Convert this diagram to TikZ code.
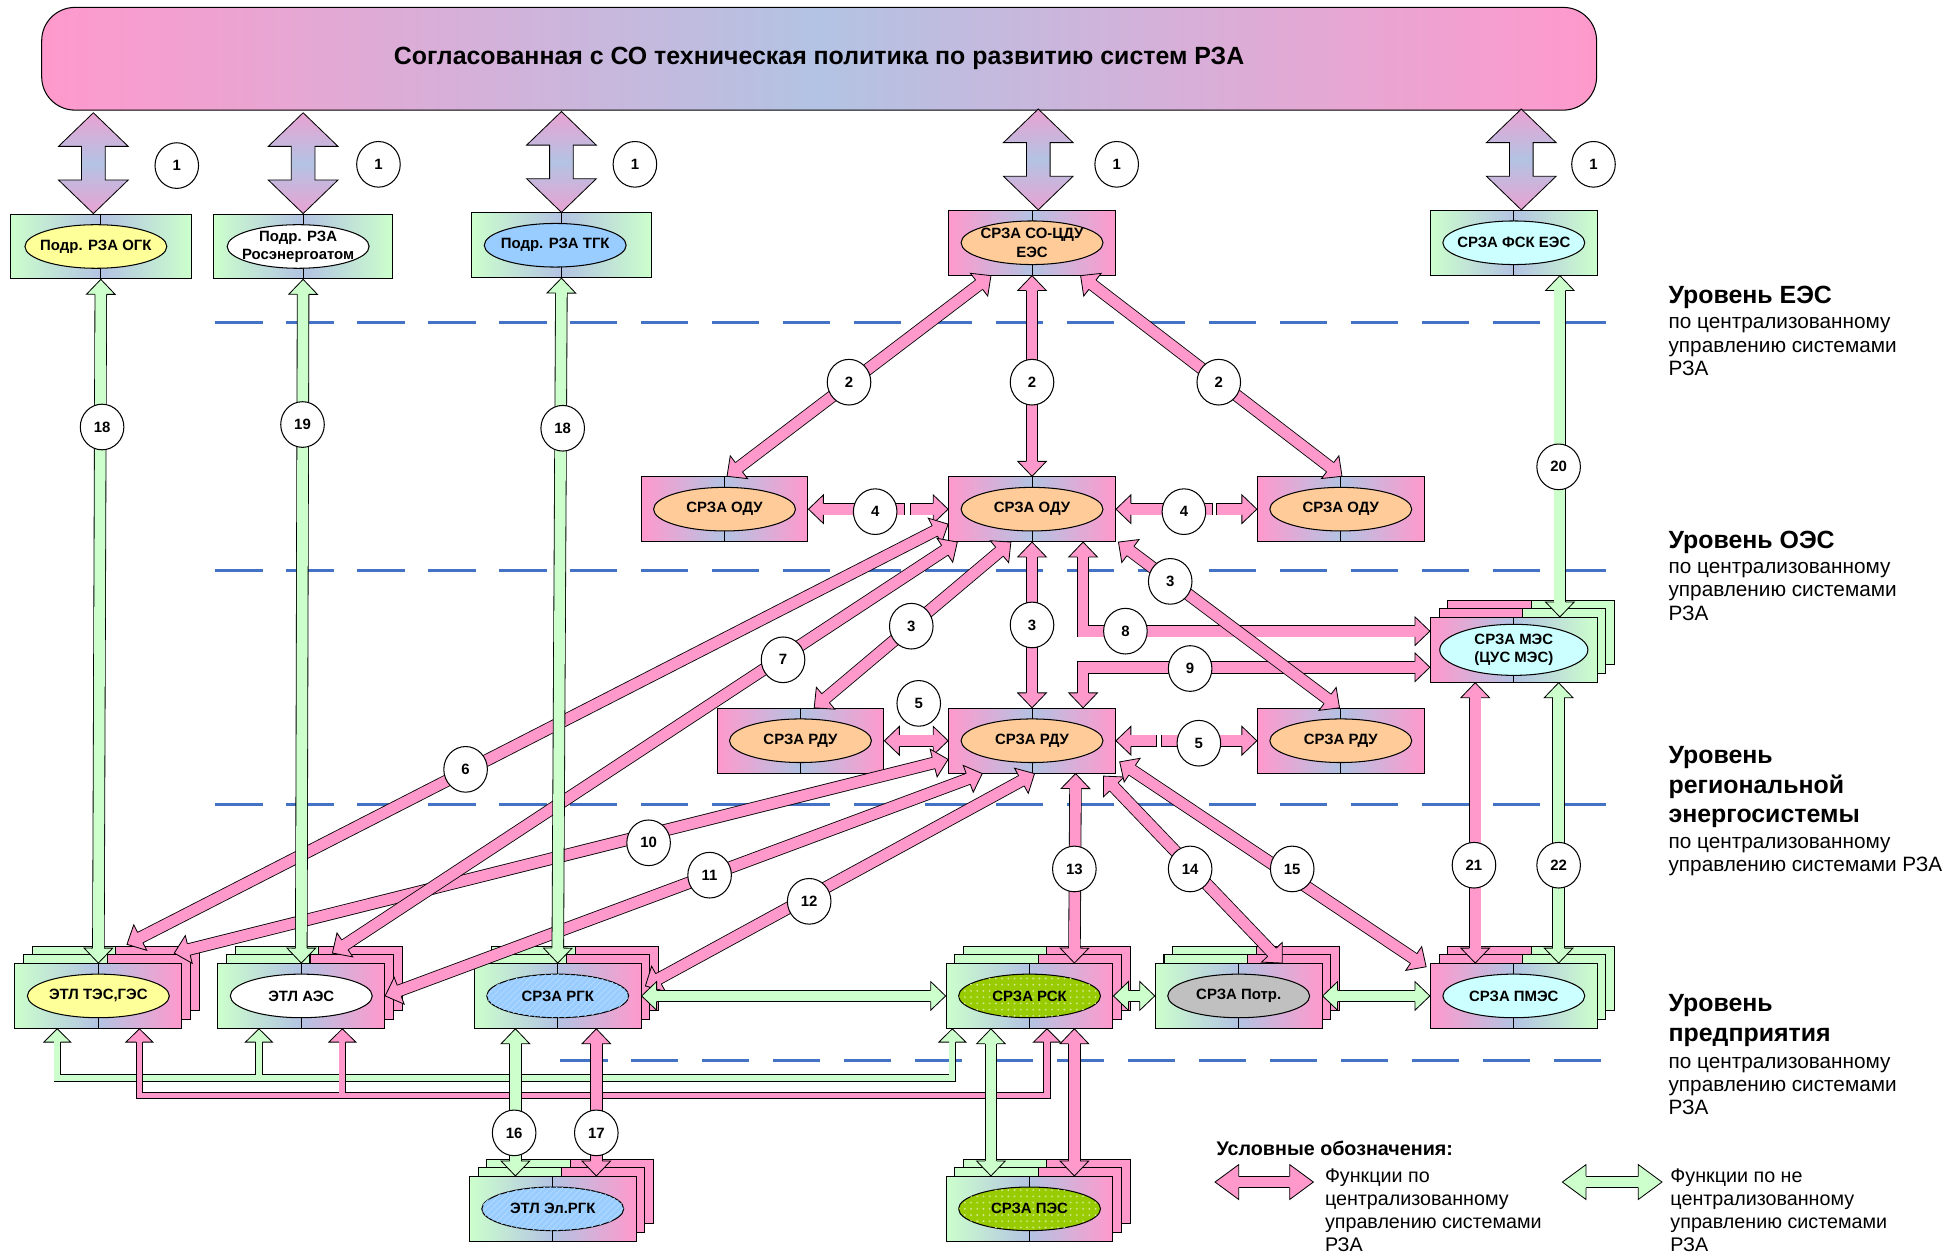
\documentclass[tikz,border=0pt]{standalone}
\usepackage{fontspec}
\setmainfont{Liberation Sans}
\usepackage{tikz}
\usetikzlibrary{calc}
\usetikzlibrary{shapes.geometric,patterns}

\definecolor{pinkc}{HTML}{FF99CC}
\definecolor{greenc}{HTML}{CCFFCC}
\definecolor{bluec}{HTML}{B3C3E3}
\definecolor{mauvec}{HTML}{E9A2D2}
\definecolor{orangec}{HTML}{FFCC99}
\definecolor{yellowc}{HTML}{FFFF99}
\definecolor{skyc}{HTML}{99CCFF}
\definecolor{cyanc}{HTML}{CCFFFF}
\definecolor{limec}{HTML}{99CC00}
\definecolor{grayc}{HTML}{C0C0C0}
\definecolor{dashc}{HTML}{4472C4}

\tikzstyle{box}=[draw, line width=0.5pt, minimum width=80.4pt, minimum height=31.2pt, inner sep=0pt]
\tikzstyle{pinkbox}=[box, left color=pinkc, right color=pinkc, middle color=bluec]
\tikzstyle{greenbox}=[box, left color=greenc, right color=greenc, middle color=bluec]
\tikzstyle{gpbox}=[box, left color=greenc, right color=pinkc, middle color=bluec]
\tikzstyle{pgbox}=[box, left color=pinkc, right color=greenc, middle color=bluec]
\tikzstyle{lbl}=[ellipse, draw, line width=0.5pt, minimum width=68.4pt, minimum height=21pt, inner xsep=-10pt, inner ysep=-5pt, align=center, font=\bfseries\fontsize{7.2}{8.8}\selectfont]
\tikzstyle{hatchfill}=[fill=skyc, postaction={pattern=north east lines, pattern color=white!25!skyc}]
\tikzstyle{dotfill}=[fill=limec, postaction={pattern=dots, pattern color=white!55!limec}]
\tikzstyle{num}=[ellipse, draw, fill=white, line width=0.5pt, minimum width=21pt, minimum height=22pt, inner sep=0pt, font=\bfseries\fontsize{7.2}{9}\selectfont]
\tikzstyle{banner}=[draw, line width=0.5pt, rounded corners=16pt, minimum width=749.4pt, minimum height=49.5pt, left color=pinkc, right color=pinkc, middle color=bluec, font=\bfseries\fontsize{12}{14}\selectfont]
\tikzstyle{levelline}=[dashc, line width=1.5pt, dash pattern=on 22.8pt off 11.4pt]
\tikzstyle{lvlhead}=[anchor=base west, inner sep=0pt, font=\bfseries\fontsize{12}{14}\selectfont]
\tikzstyle{lvlsub}=[anchor=base west, inner sep=0pt, font=\fontsize{10}{11.5}\selectfont]
\tikzstyle{legtitle}=[anchor=base west, inner sep=0pt, font=\bfseries\fontsize{9.5}{11}\selectfont]
\tikzstyle{legtext}=[anchor=base west, inner sep=0pt, font=\fontsize{9.5}{11}\selectfont]
\tikzset{shaft/.style={draw=black, line width=0.4pt, double=#1, double distance=5.2pt}}

% arrow head sizes
\def\hl{7.2pt}
\def\hk{6.4pt}
\def\hw{6.9pt}
\def\hs{2.8pt}

% head: colour, point behind, tip
\newcommand{\arrtip}[3]{%
  \coordinate (tp) at (#2);
  \coordinate (tq) at (#3);
  \coordinate (tb) at ($(tq)!\hl!(tp)$);
  \fill[#1] ($(tb)!\hs!90:(tq)$) -- ($(tb)!\hw!90:(tq)$) -- (tq) -- ($(tb)!\hw!-90:(tq)$) -- ($(tb)!\hs!-90:(tq)$) -- cycle;
  \draw[line width=0.4pt] ($(tb)!\hs!90:(tq)$) -- ($(tb)!\hw!90:(tq)$) -- (tq) -- ($(tb)!\hw!-90:(tq)$) -- ($(tb)!\hs!-90:(tq)$);
}
% double-headed connector
\newcommand{\darr}[3]{%
  \coordinate (da) at (#2);
  \coordinate (db) at (#3);
  \draw[shaft=#1, shorten <=\hk, shorten >=\hk] (da) -- (db);
  \arrtip{#1}{da}{db}
  \arrtip{#1}{db}{da}
}
% big policy arrow, lower tip at #1
\newcommand{\bigarr}[1]{%
  \begin{scope}[shift={(#1)}]
    \shadedraw[top color=mauvec, bottom color=mauvec, middle color=bluec, line width=0.4pt]
      (0,0) -- (-28,-27) -- (-9.5,-27) -- (-9.5,-54) -- (-28,-54) -- (0,-81)
      -- (28,-54) -- (9.5,-54) -- (9.5,-27) -- (28,-27) -- cycle;
  \end{scope}}
% two sheets behind a unit
\newcommand{\stackback}[3]{%
  \foreach \sk in {14,7}{%
    \filldraw[fill=#2, line width=0.5pt] ($#1+(-67+\sk,-26-\sk)$) rectangle ($#1+(\sk,26-\sk)$);
    \filldraw[fill=#3, line width=0.5pt] ($#1+(\sk,-26-\sk)$) rectangle ($#1+(67+\sk,26-\sk)$);
  }}
% unit: name, position, box style, ellipse style, text
\newcommand{\rzunit}[5]{%
  \node[#3] (#1) at #2 {};
  \draw[line width=0.5pt] (#1.north) -- (#1.south);
  \node[lbl, #4] (#1-t) at (#1) {#5};
}
\newcommand{\shaftgap}[3]{%
  \fill[white] (#1,#3-6) rectangle (#2,#3+6);
  \draw[line width=0.4pt] (#1,#3-4.67) -- (#1,#3+4.67) (#2,#3-4.67) -- (#2,#3+4.67);
}

\begin{document}
\begin{tikzpicture}[x=0.6pt, y=-0.6pt]
\useasboundingbox (0,0) rectangle (1568,1011);

% level borders
\draw[levelline] (173,259) -- (1290,259);
\draw[levelline] (173,458) -- (1290,458);
\draw[levelline] (173,646) -- (1290,646);
\draw[levelline] (450,852) -- (1290,852);

% EES level
\rzunit{ogk}{(81,198)}{greenbox, minimum width=87pt}{fill=yellowc, xshift=-2.4pt}{Подр. РЗА ОГК}
\rzunit{rosen}{(243.5,198)}{greenbox, minimum width=86.6pt}{fill=white, xshift=-2.4pt}{Подр. РЗА\\Росэнергоатом}
\rzunit{tgk}{(451,197)}{greenbox, minimum width=87pt}{fill=skyc, xshift=-3pt}{Подр. РЗА ТГК}
\rzunit{cdu}{(829,195)}{pinkbox}{fill=orangec}{СРЗА СО-ЦДУ\\ЕЭС}
\rzunit{fsk}{(1216,195)}{greenbox}{fill=cyanc}{СРЗА ФСК ЕЭС}

% OES level
\rzunit{odu1}{(582,409)}{pinkbox}{fill=orangec}{СРЗА ОДУ}
\rzunit{odu2}{(829,409)}{pinkbox}{fill=orangec}{СРЗА ОДУ}
\rzunit{odu3}{(1077,409)}{pinkbox}{fill=orangec}{СРЗА ОДУ}
\stackback{(1216,522)}{pinkc}{greenc}
\rzunit{mes}{(1216,522)}{pgbox}{fill=cyanc, minimum width=71.4pt, minimum height=24.6pt}{СРЗА МЭС\\(ЦУС МЭС)}

% regional level
\rzunit{rdu1}{(643,595)}{pinkbox}{fill=orangec}{СРЗА РДУ}
\rzunit{rdu2}{(829,595)}{pinkbox}{fill=orangec}{СРЗА РДУ}
\rzunit{rdu3}{(1077,595)}{pinkbox}{fill=orangec}{СРЗА РДУ}

% enterprise level
\stackback{(79,800)}{greenc}{pinkc}
\rzunit{tes}{(79,800)}{gpbox}{fill=yellowc}{ЭТЛ ТЭС,ГЭС}
\stackback{(242,800)}{greenc}{pinkc}
\rzunit{aes}{(242,800)}{gpbox}{fill=white}{ЭТЛ АЭС}
\stackback{(448,800)}{greenc}{pinkc}
\rzunit{rgk}{(448,800)}{gpbox}{hatchfill}{СРЗА РГК}
\stackback{(827,800)}{greenc}{pinkc}
\rzunit{rsk}{(827,800)}{gpbox}{dotfill}{СРЗА РСК}
\stackback{(995,800)}{greenc}{pinkc}
\rzunit{potr}{(995,800)}{gpbox}{fill=grayc}{СРЗА Потр.}
\stackback{(1216,800)}{pinkc}{greenc}
\rzunit{pmes}{(1216,800)}{pgbox}{fill=cyanc}{СРЗА ПМЭС}
\stackback{(444,971)}{greenc}{pinkc}
\rzunit{elrgk}{(444,971)}{gpbox}{hatchfill}{ЭТЛ Эл.РГК}
\stackback{(827,971)}{greenc}{pinkc}
\rzunit{pes}{(827,971)}{gpbox}{dotfill}{СРЗА ПЭС}

% policy
\node[banner] (policy) at (658,47.2) {Согласованная с СО техническая политика по развитию систем РЗА};
\bigarr{$(ogk.north)+(-6,0)$}
\bigarr{rosen.north}
\bigarr{tgk.north}
\bigarr{$(cdu.north)+(5,0)$}
\bigarr{$(fsk.north)+(6,0)$}

% centralised functions
\darr{pinkc}{$(cdu.south)+(-33,0)$}{$(odu1.north)+(2,0)$}
\darr{pinkc}{cdu.south}{odu2.north}
\darr{pinkc}{$(cdu.south)+(39,0)$}{$(odu3.north)+(1,0)$}
\darr{pinkc}{odu1.east}{odu2.west}
\darr{pinkc}{odu2.east}{odu3.west}
\shaftgap{726.6}{731.7}{409}
\shaftgap{973.5}{977.5}{409}
\darr{pinkc}{$(odu2.south)+(-17,0)$}{$(rdu1.north)+(11,0)$}
\darr{pinkc}{odu2.south}{rdu2.north}
\darr{pinkc}{rdu1.east}{rdu2.west}
\darr{pinkc}{rdu2.east}{rdu3.west}
\shaftgap{928.6}{932.6}{595}
\coordinate (e8a) at ($(odu2.south)+(41,0)$);
\coordinate (e8b) at ($(mes.west)+(0,-15)$);
\draw[shaft=pinkc, shorten <=\hk, shorten >=\hk] (e8a) |- (e8b);
\arrtip{pinkc}{$(e8a)+(0,20)$}{e8a}
\arrtip{pinkc}{$(e8b)+(-20,0)$}{e8b}
\coordinate (e9a) at ($(mes.west)+(0,14)$);
\coordinate (e9b) at ($(rdu2.north)+(41,0)$);
\draw[shaft=pinkc, shorten <=\hk, shorten >=\hk] (e9a) -| (e9b);
\arrtip{pinkc}{$(e9a)+(-20,0)$}{e9a}
\arrtip{pinkc}{$(e9b)+(0,-20)$}{e9b}
\darr{pinkc}{$(odu2.south east)+(2,0)$}{$(rdu3.north)+(-1,0)$}
\darr{pinkc}{$(odu2.west)+(0,12)$}{$(tes.north)+(23,-15)$}
\darr{pinkc}{$(rdu2.west)+(0,15)$}{$(tes.north)+(61,-8)$}
\darr{pinkc}{$(odu2.south)+(-60,0)$}{$(aes.north)+(25,-8)$}
\darr{pinkc}{$(rdu2.south)+(-40,0)$}{aes.east}
\darr{pinkc}{$(rdu2.south)+(2,0)$}{$(rgk.east)+(3,-8)$}
\darr{pinkc}{$(rdu2.south)+(35,0)$}{$(rsk.north)+(36,0)$}
\darr{pinkc}{$(rdu2.south east)+(-10,2)$}{$(potr.north)+(35,0)$}
\darr{pinkc}{$(rdu2.east)+(3,17)$}{$(pmes.north west)+(-3,3)$}
\darr{pinkc}{$(mes.south)+(-31,0)$}{$(pmes.north)+(-31,0)$}

% non-centralised functions
\darr{greenc}{ogk.south}{tes.north}
\darr{greenc}{rosen.south}{aes.north}
\darr{greenc}{tgk.south}{rgk.north}
\darr{greenc}{$(fsk.south)+(37,0)$}{$(mes.north)+(37,0)$}
\darr{greenc}{$(mes.south)+(36,0)$}{$(pmes.north)+(36,0)$}
\darr{greenc}{rgk.east}{rsk.west}
\darr{greenc}{rsk.east}{potr.west}
\darr{greenc}{potr.east}{pmes.west}

% buses under the enterprise level
\begin{scope}
  \def\hl{6.4pt}\def\hk{5.6pt}\def\hw{6.5pt}\def\hs{1.6pt}
  \coordinate (g1) at ($(tes.south)+(-33,0)$);
  \coordinate (g2) at ($(aes.south)+(-34,0)$);
  \coordinate (g3) at ($(rsk.south)+(-62,0)$);
  \coordinate (gbus) at (0,866);
  \draw[black, line width=3.6pt, shorten <=\hk, shorten >=\hk] (g1) |- (gbus -| g3) -- (g3);
  \draw[black, line width=3.6pt, shorten >=\hk] (gbus -| g2) -- (g2);
  \draw[greenc, line width=2.8pt, shorten <=\hk, shorten >=\hk] (g1) |- (gbus -| g3) -- (g3);
  \draw[greenc, line width=2.8pt, shorten >=\hk] (gbus -| g2) -- (g2);
  \arrtip{greenc}{$(g1)+(0,20)$}{g1}
  \arrtip{greenc}{$(g2)+(0,20)$}{g2}
  \arrtip{greenc}{$(g3)+(0,20)$}{g3}
  \coordinate (p1) at ($(tes.south)+(33,0)$);
  \coordinate (p2) at ($(aes.south)+(33,0)$);
  \coordinate (p3) at ($(rsk.south)+(14,0)$);
  \coordinate (pbus) at (0,880);
  \draw[black, line width=3.6pt, shorten <=\hk, shorten >=\hk] (p1) |- (pbus -| p3) -- (p3);
  \draw[black, line width=3.6pt, shorten >=\hk] (pbus -| p2) -- (p2);
  \draw[pinkc, line width=2.8pt, shorten <=\hk, shorten >=\hk] (p1) |- (pbus -| p3) -- (p3);
  \draw[pinkc, line width=2.8pt, shorten >=\hk] (pbus -| p2) -- (p2);
  \arrtip{pinkc}{$(p1)+(0,20)$}{p1}
  \arrtip{pinkc}{$(p2)+(0,20)$}{p2}
  \arrtip{pinkc}{$(p3)+(0,20)$}{p3}
\end{scope}

\darr{greenc}{$(rgk.south)+(-34,0)$}{$(elrgk.north)+(-30,0)$}
\darr{pinkc}{$(rgk.south)+(31,0)$}{$(elrgk.north)+(35,0)$}
\darr{greenc}{$(rsk.south)+(-31,0)$}{$(pes.north)+(-31,0)$}
\darr{pinkc}{$(rsk.south)+(36,0)$}{$(pes.north)+(36,0)$}

% function numbers
\foreach \pos/\name/\txt in {{(142,133)/c1a/1}, {(304,132)/c1b/1}, {(510,132)/c1c/1}, {(897,132)/c1d/1}, {(1280,132)/c1e/1},
  {(682,307)/c2a/2}, {(829,307)/c2b/2}, {(979,307)/c2c/2}, {(703,411)/c4a/4}, {(951,411)/c4b/4},
  {(732,503)/c3a/3}, {(829,502)/c3b/3}, {(940,467)/c3c/3}, {(738,565)/c5a/5}, {(963,597)/c5b/5},
  {(374,618)/c6/6}, {(629,530)/c7/7}, {(904,507)/c8/8}, {(956,537)/c9/9}, {(521,677)/c10/10},
  {(570,703)/c11/11}, {(650,724)/c12/12}, {(863,698)/c13/13}, {(956,698)/c14/14}, {(1038,698)/c15/15},
  {(413,910)/c16/16}, {(479,910)/c17/17}, {(82,343)/c18a/18}, {(243,341)/c19/19}, {(452,344)/c18b/18},
  {(1252,375)/c20/20}, {(1184,695)/c21/21}, {(1252,695)/c22/22}}
    \node[num] (\name) at \pos {\txt};

% levels
\foreach \y/\t [count=\i] in {243.5/Уровень ЕЭС, 440.3/Уровень ОЭС, 613/Уровень, 637/региональной, 661/энергосистемы, 812.6/Уровень, 836.7/предприятия}
  \node[lvlhead] (lvl\i) at (1340,\y) {\t};
\foreach \y/\t [count=\i] in {263.5/по централизованному, 282.8/управлению системами, 302/РЗА, 460.4/по централизованному, 479.2/управлению системами, 498.8/РЗА, 681.4/по централизованному, 700/управлению системами РЗА, 858/по централизованному, 876.8/управлению системами, 895.6/РЗА}
  \node[lvlsub] (sub\i) at (1340,\y) {\t};

% legend
\node[legtitle] (legend) at (977,928.5) {Условные обозначения:};
\begin{scope}
  \def\hl{11.4pt}\def\hk{10.6pt}\def\hw{8.4pt}
  \coordinate (lg1a) at (976,949.5);
  \coordinate (lg1b) at (1055,949.5);
  \darr{pinkc}{lg1a}{lg1b}
  \coordinate (lg2a) at (1255,949.5);
  \coordinate (lg2b) at (1335,949.5);
  \darr{greenc}{lg2a}{lg2b}
\end{scope}
\foreach \y/\t [count=\i] in {950/Функции по, 968.5/централизованному, 987/управлению системами, 1005.5/РЗА}
  \node[legtext] (lega\i) at (1064,\y) {\t};
\foreach \y/\t [count=\i] in {950/Функции по не, 968.5/централизованному, 987/управлению системами, 1005.5/РЗА}
  \node[legtext] (legb\i) at (1341.5,\y) {\t};

\end{tikzpicture}
\end{document}
